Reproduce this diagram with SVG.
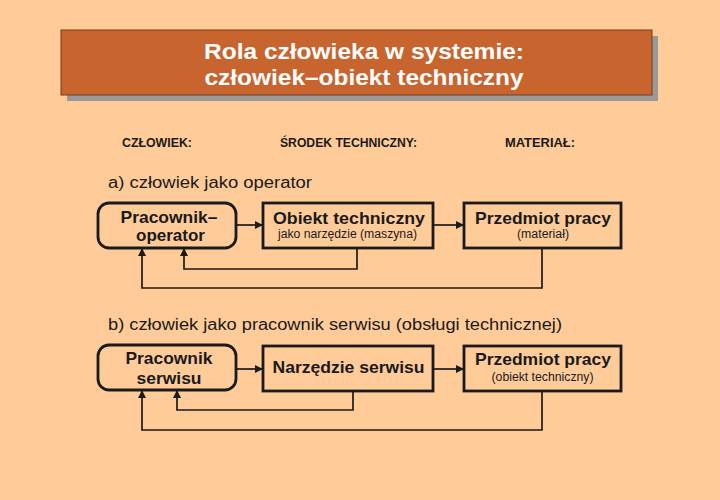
<svg xmlns="http://www.w3.org/2000/svg" width="720" height="500" viewBox="0 0 720 500">
<style>
text{font-family:"Liberation Sans",Arial,sans-serif;fill:#1a1a1a}
.t{fill:#fff;font-weight:bold;font-size:22px;text-anchor:middle}
.h{font-weight:bold;font-size:12px}
.s{font-size:16px}
.b{font-weight:bold;font-size:17px;text-anchor:middle}
.n{font-size:12px;text-anchor:middle}
.box{fill:none;stroke:#1a1a1a;stroke-width:2.8}
.ln{fill:none;stroke:#1a1a1a;stroke-width:1.7}
</style>
<defs>
<marker id="ah" viewBox="0 0 10 10" refX="10" refY="5" markerWidth="8" markerHeight="8" markerUnits="userSpaceOnUse" orient="auto"><path d="M0,0 L10,5 L0,10 Z" fill="#1a1a1a"/></marker>
</defs>
<rect width="720" height="500" fill="#FFCC99"/>
<g id="title">
<rect x="67" y="36" width="591" height="65" fill="#999999"/>
<rect x="61" y="30" width="591" height="65" fill="#C8642E" stroke="#7a3a18" stroke-width="1"/>
<text class="t" x="364" y="58.5" textLength="320" lengthAdjust="spacingAndGlyphs">Rola człowieka w systemie:</text>
<text class="t" x="364" y="84.5" textLength="319" lengthAdjust="spacingAndGlyphs">człowiek–obiekt techniczny</text>
</g>
<g id="headers">
<text class="h" x="122" y="147" textLength="70" lengthAdjust="spacingAndGlyphs">CZŁOWIEK:</text>
<text class="h" x="280" y="147" textLength="137" lengthAdjust="spacingAndGlyphs">ŚRODEK TECHNICZNY:</text>
<text class="h" x="505" y="147" textLength="70" lengthAdjust="spacingAndGlyphs">MATERIAŁ:</text>
<text class="s" x="108" y="188" textLength="204" lengthAdjust="spacingAndGlyphs">a) człowiek jako operator</text>
<text class="s" x="108" y="330" textLength="454" lengthAdjust="spacingAndGlyphs">b) człowiek jako pracownik serwisu (obsługi technicznej)</text>
</g>
<g id="connectors">
<line class="ln" x1="236" y1="225" x2="263" y2="225" marker-end="url(#ah)"/>
<line class="ln" x1="433" y1="225" x2="464" y2="225" marker-end="url(#ah)"/>
<polyline class="ln" points="357,248 357,269 184,269 184,248" marker-end="url(#ah)"/>
<polyline class="ln" points="542,248 542,288 142,288 142,248" marker-end="url(#ah)"/>
<line class="ln" x1="236" y1="369" x2="263" y2="369" marker-end="url(#ah)"/>
<line class="ln" x1="433" y1="369" x2="464" y2="369" marker-end="url(#ah)"/>
<polyline class="ln" points="353,391 353,410 177,410 177,390" marker-end="url(#ah)"/>
<polyline class="ln" points="542,391 542,430 142,430 142,390" marker-end="url(#ah)"/>
</g>
<g id="a-operator">
<rect class="box" x="98" y="203" width="138" height="45" rx="11"/>
<text class="b" x="169" y="222.5" textLength="97" lengthAdjust="spacingAndGlyphs">Pracownik–</text>
<text class="b" x="170.5" y="241" textLength="69" lengthAdjust="spacingAndGlyphs">operator</text>
</g>
<g id="a-obiekt">
<rect class="box" x="263" y="203" width="170" height="45"/>
<text class="b" x="349" y="224" textLength="152" lengthAdjust="spacingAndGlyphs">Obiekt techniczny</text>
<text class="n" x="347.5" y="237.5" textLength="139" lengthAdjust="spacingAndGlyphs">jako narzędzie (maszyna)</text>
</g>
<g id="a-przedmiot">
<rect class="box" x="464" y="203" width="157" height="45"/>
<text class="b" x="543" y="223.5" textLength="136" lengthAdjust="spacingAndGlyphs">Przedmiot pracy</text>
<text class="n" x="543" y="238" textLength="52" lengthAdjust="spacingAndGlyphs">(materiał)</text>
</g>
<g id="b-pracownik">
<rect class="box" x="98" y="345" width="138" height="45" rx="11"/>
<text class="b" x="169" y="363.5" textLength="87" lengthAdjust="spacingAndGlyphs">Pracownik</text>
<text class="b" x="169" y="383.5" textLength="65" lengthAdjust="spacingAndGlyphs">serwisu</text>
</g>
<g id="b-narzedzie">
<rect class="box" x="263" y="346" width="170" height="45"/>
<text class="b" x="348.5" y="372.5" textLength="152" lengthAdjust="spacingAndGlyphs">Narzędzie serwisu</text>
</g>
<g id="b-przedmiot">
<rect class="box" x="464" y="346" width="157" height="45"/>
<text class="b" x="543" y="365" textLength="136" lengthAdjust="spacingAndGlyphs">Przedmiot pracy</text>
<text class="n" x="542.5" y="380.5" textLength="102" lengthAdjust="spacingAndGlyphs">(obiekt techniczny)</text>
</g>
</svg>
